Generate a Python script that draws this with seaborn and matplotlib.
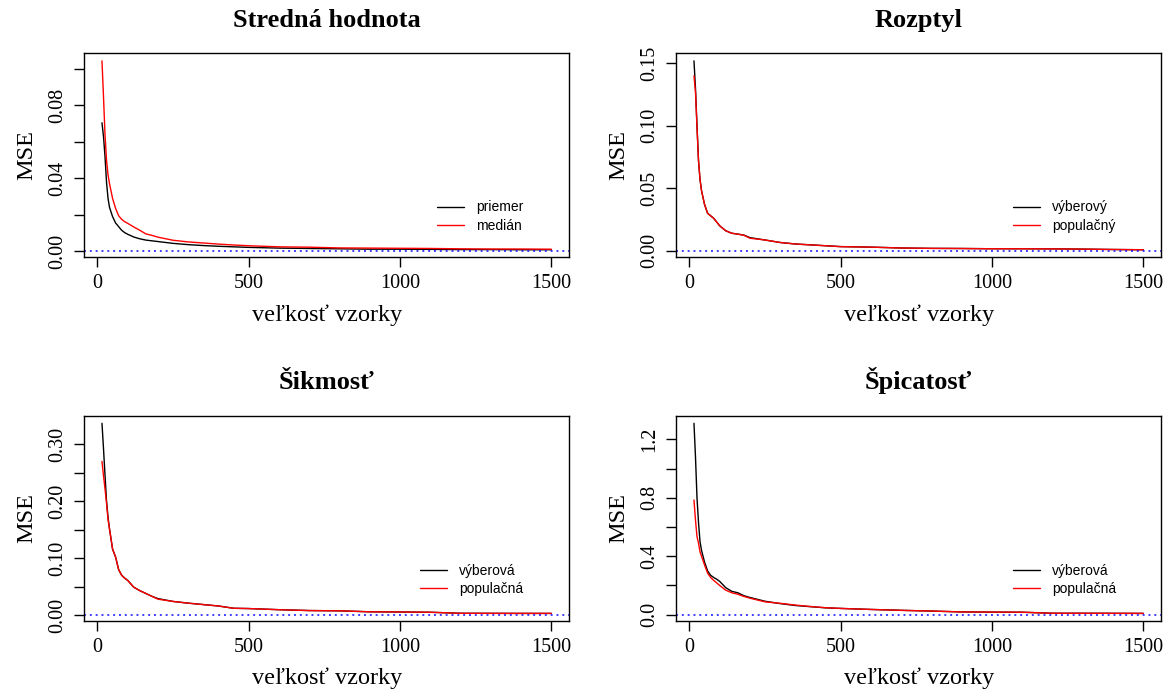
import numpy as np
import pandas as pd
import matplotlib
matplotlib.use("Agg")
import matplotlib.pyplot as plt
import seaborn as sns

sns.set_style("white")
plt.rcParams['font.family'] = ['Liberation Serif', 'DejaVu Serif']
plt.rcParams['text.color'] = 'black'
plt.rcParams['axes.labelcolor'] = 'black'
plt.rcParams['xtick.color'] = 'black'
plt.rcParams['ytick.color'] = 'black'

# ---------------- data ----------------
sample_size = [15, 20, 25, 30, 35, 40, 50, 60, 70, 80, 90, 100, 120, 140, 160, 180, 200,
               250, 300, 350, 400, 450, 500, 600, 700, 800, 900, 1000, 1100, 1200, 1300, 1400, 1500]

mean_priemer = [0.0705, 0.063, 0.052, 0.038, 0.029, 0.024, 0.019, 0.0155, 0.0135, 0.0115, 0.0102, 0.0093,
                0.0078, 0.0068, 0.0061, 0.0057, 0.0053, 0.0043, 0.0036, 0.0031, 0.0027, 0.0024, 0.0021,
                0.0017, 0.0015, 0.0013, 0.0011, 0.0011, 0.0010, 0.0009, 0.0009, 0.0008, 0.0008]
mean_median = [0.1045, 0.085, 0.064, 0.050, 0.042, 0.037, 0.029, 0.0235, 0.0195, 0.0175, 0.0162, 0.0153,
               0.0133, 0.0115, 0.0095, 0.0087, 0.0077, 0.0060, 0.0051, 0.0045, 0.0039, 0.0034, 0.0030,
               0.0024, 0.0022, 0.0018, 0.0017, 0.0016, 0.0015, 0.0013, 0.0012, 0.0012, 0.0011]

var_vyberovy = [0.152, 0.130, 0.100, 0.072, 0.057, 0.048, 0.037, 0.030, 0.028, 0.026, 0.023, 0.020,
                0.016, 0.0140, 0.0133, 0.0125, 0.0105, 0.0086, 0.0066, 0.0054, 0.0047, 0.0040, 0.0033,
                0.0029, 0.0022, 0.0019, 0.0018, 0.0016, 0.0016, 0.0015, 0.0013, 0.0010, 0.0008]
var_populacny = [0.140, 0.127, 0.099, 0.072, 0.057, 0.048, 0.037, 0.030, 0.028, 0.026, 0.023, 0.020,
                 0.016, 0.0140, 0.0133, 0.0124, 0.0100, 0.0086, 0.0066, 0.0054, 0.0047, 0.0040, 0.0033,
                 0.0029, 0.0022, 0.0019, 0.0018, 0.0016, 0.0016, 0.0015, 0.0013, 0.0010, 0.0008]

skew_vyberova = [0.337, 0.293, 0.246, 0.201, 0.172, 0.151, 0.116, 0.102, 0.080, 0.070, 0.065, 0.061,
                 0.049, 0.043, 0.038, 0.033, 0.029, 0.024, 0.021, 0.0185, 0.016, 0.012, 0.0115,
                 0.0095, 0.0080, 0.0075, 0.0058, 0.0055, 0.0050, 0.0032, 0.0031, 0.0030, 0.0030]
skew_populacna = [0.270, 0.245, 0.222, 0.197, 0.168, 0.151, 0.116, 0.102, 0.080, 0.070, 0.065, 0.061,
                  0.049, 0.043, 0.038, 0.033, 0.028, 0.024, 0.021, 0.0185, 0.016, 0.012, 0.0115,
                  0.0095, 0.0080, 0.0075, 0.0058, 0.0055, 0.0050, 0.0032, 0.0031, 0.0030, 0.0030]

kurt_vyberova = [1.31, 1.08, 0.80, 0.63, 0.50, 0.44, 0.36, 0.30, 0.27, 0.255, 0.243, 0.228,
                 0.185, 0.160, 0.150, 0.130, 0.118, 0.092, 0.076, 0.063, 0.055, 0.047, 0.043,
                 0.036, 0.030, 0.025, 0.019, 0.018, 0.017, 0.010, 0.010, 0.0095, 0.009]
kurt_populacna = [0.785, 0.648, 0.534, 0.49, 0.43, 0.40, 0.34, 0.285, 0.255, 0.235, 0.218, 0.200,
                  0.168, 0.150, 0.140, 0.125, 0.113, 0.088, 0.078, 0.066, 0.056, 0.048, 0.043,
                  0.036, 0.030, 0.025, 0.019, 0.018, 0.017, 0.010, 0.010, 0.0095, 0.009]

titles = ["Stredná hodnota", "Rozptyl", "Šikmosť", "Špicatosť"]
legend_labels = [["priemer", "medián"], ["výberový", "populačný"],
                 ["výberová", "populačná"], ["výberová", "populačná"]]
x_ticks = [0, 500, 1000, 1500]
y_ticks = [[0.00, 0.02, 0.04, 0.06, 0.08, 0.10],
           [0.00, 0.05, 0.10, 0.15],
           [0.00, 0.05, 0.10, 0.15, 0.20, 0.25, 0.30],
           [0.0, 0.2, 0.4, 0.6, 0.8, 1.0, 1.2]]
y_tick_labels = [["0.00", "", "0.04", "", "0.08", ""],
                 ["0.00", "0.05", "0.10", "0.15"],
                 ["0.00", "", "0.10", "", "0.20", "", "0.30"],
                 ["0.0", "", "0.4", "", "0.8", "", "1.2"]]
x_label = "veľkosť vzorky"
y_label = "MSE"

series = [(mean_priemer, mean_median), (var_vyberovy, var_populacny),
          (skew_vyberova, skew_populacna), (kurt_vyberova, kurt_populacna)]

# ---------------- figure ----------------
fig = plt.figure(figsize=(11.74, 6.96), dpi=100)
positions = [
    [84/1174, 1 - 257.3/696, 485.3/1174, 204/696],
    [676/1174, 1 - 257.3/696, 485.3/1174, 204/696],
    [84/1174, 1 - 621/696, 485.3/1174, 205.3/696],
    [676/1174, 1 - 621/696, 485.3/1174, 205.3/696],
]
legend_x = [0.727, 0.694, 0.692, 0.694]

for i in range(4):
    ax = fig.add_axes(positions[i])
    y1, y2 = series[i]
    df = pd.DataFrame({"n": sample_size, "a": y1, "b": y2})
    sns.lineplot(data=df, x="n", y="a", color="black", lw=1.0, ax=ax, label=legend_labels[i][0])
    sns.lineplot(data=df, x="n", y="b", color="red", lw=1.0, ax=ax, label=legend_labels[i][1])
    ax.axhline(0, color="blue", lw=1.4, ls=(0, (1, 2)), alpha=0.75)

    # R-like 4% axis extension
    xmin, xmax = min(sample_size), max(sample_size)
    xr = xmax - xmin
    ax.set_xlim(xmin - 0.04 * xr, xmax + 0.04 * xr)
    ymin = min(min(y1), min(y2))
    ymax = max(max(y1), max(y2))
    yr = ymax - ymin
    ax.set_ylim(ymin - 0.04 * yr, ymax + 0.04 * yr)

    ax.set_xticks(x_ticks)
    ax.set_xticklabels([str(t) for t in x_ticks])
    ax.set_yticks(y_ticks[i])
    ax.set_yticklabels(y_tick_labels[i], rotation=90, va="center")
    ax.tick_params(axis="both", which="major", length=7, width=1, color="black",
                   labelcolor="black", labelsize=14.5, pad=5, direction="out",
                   bottom=True, left=True)
    for sp in ax.spines.values():
        sp.set_color("black")
        sp.set_linewidth(1.0)
        sp.set_visible(True)

    ax.set_title(titles[i], fontsize=19, fontweight="bold", pad=19, color="black")
    ax.set_xlabel(x_label, fontsize=17.5, labelpad=8, color="black")
    ax.set_ylabel(y_label, fontsize=17.5, labelpad=8, color="black")

    leg = ax.legend(loc="center left", bbox_to_anchor=(legend_x[i], 0.20), frameon=False,
                    prop={"family": "Liberation Sans", "size": 10}, handlelength=1.95,
                    handletextpad=0.85, labelspacing=0.3, borderpad=0, borderaxespad=0)
    for t in leg.get_texts():
        t.set_color("black")

fig.savefig("out.png", dpi=100)
